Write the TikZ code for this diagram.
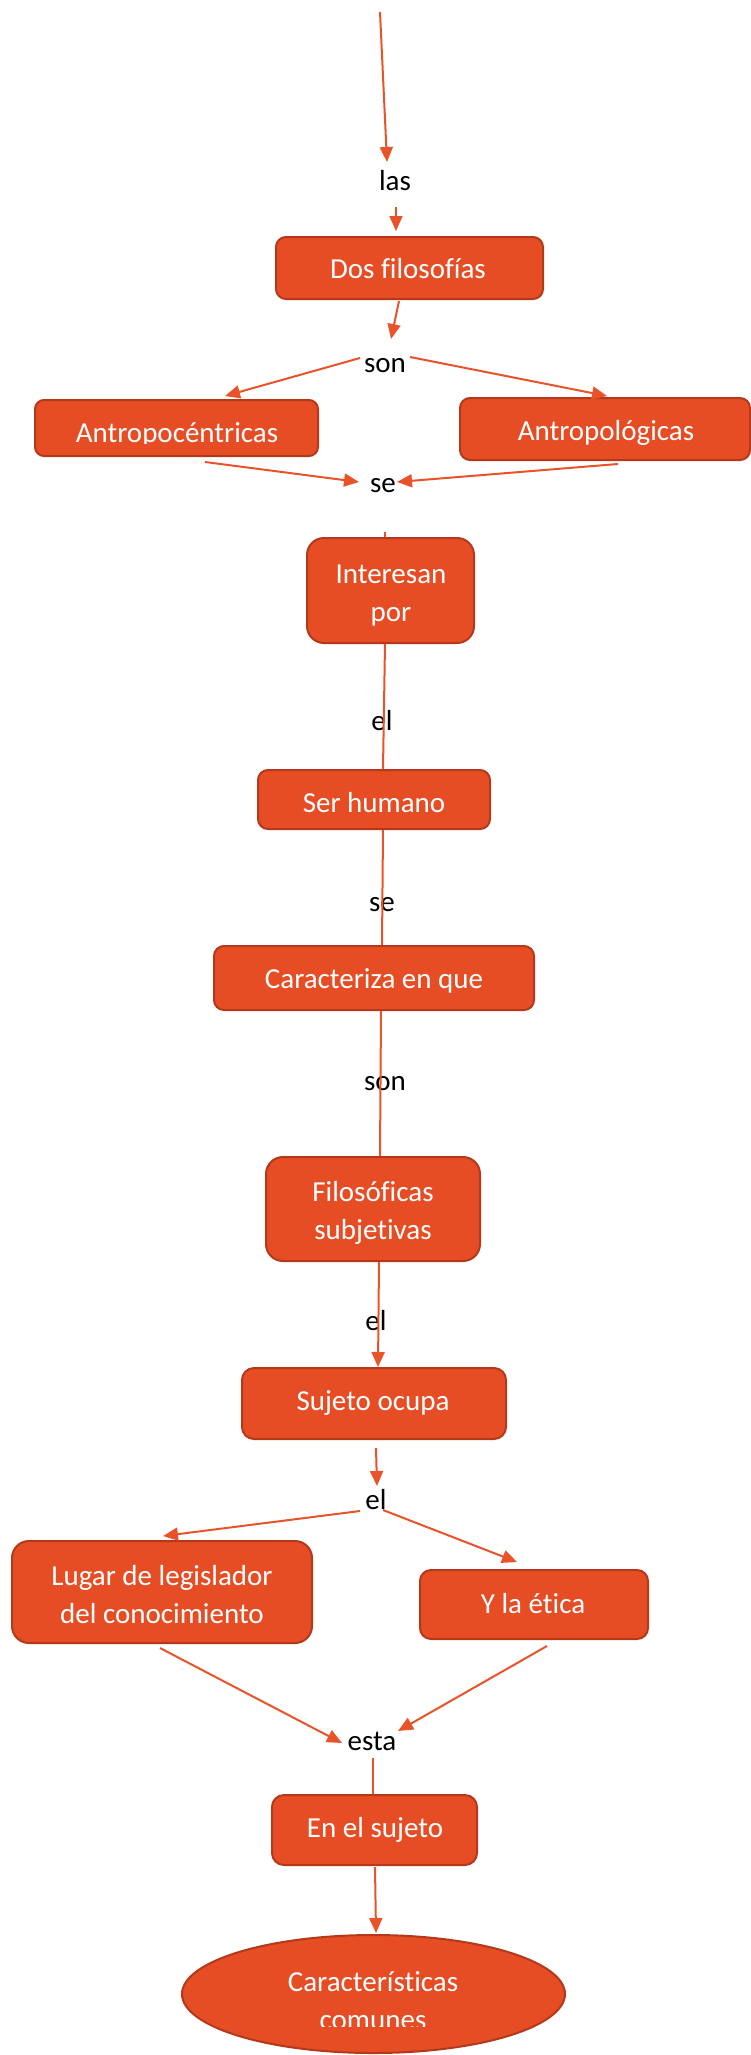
\documentclass[tikz,border=0pt]{standalone}
\usepackage{fontspec}
\setmainfont{Carlito}[Ligatures=NoCommon]
\usetikzlibrary{arrows.meta,calc,shapes.geometric}
\definecolor{boxfill}{RGB}{230,77,36}
\definecolor{boxline}{RGB}{180,57,26}
\definecolor{conn}{RGB}{232,83,42}
\begin{document}
\begin{tikzpicture}[x=1pt,y=-1pt,
  box/.style={draw=boxline, line width=2pt, fill=boxfill, inner sep=0pt},
  wt/.style={text=white, font=\fontsize{29}{38}\selectfont, inner sep=0pt, anchor=base},
  bt/.style={text=black, font=\fontsize{29}{38}\selectfont, inner sep=0pt, anchor=base},
  arr/.style={draw=conn, line width=2pt, -{Triangle[length=15pt,width=13pt]}},
  ln/.style={draw=conn, line width=2pt}]
\useasboundingbox (0,0) rectangle (751,2055);
\fill[white] (0,0) rectangle (751,2055);

% boxes
\node[box, minimum width=267pt, minimum height=62pt, rounded corners=10pt] (dos) at (409.5,268) {};
\node[box, minimum width=283pt, minimum height=56pt, rounded corners=9pt] (antc) at (176.5,428) {};
\node[box, minimum width=290pt, minimum height=62pt, rounded corners=10pt] (antl) at (605,429) {};
\node[box, minimum width=167pt, minimum height=105pt, rounded corners=17pt] (int) at (390.5,590.5) {};
\node[box, minimum width=232pt, minimum height=59pt, rounded corners=10pt] (ser) at (374,799.5) {};
\node[box, minimum width=320pt, minimum height=64pt, rounded corners=10pt] (car) at (374,978) {};
\node[box, minimum width=214pt, minimum height=104pt, rounded corners=17pt] (fil) at (373,1209) {};
\node[box, minimum width=264pt, minimum height=71pt, rounded corners=12pt] (suj) at (374,1403.5) {};
\node[box, minimum width=300pt, minimum height=102pt, rounded corners=17pt] (lug) at (162,1592) {};
\node[box, minimum width=228pt, minimum height=69pt, rounded corners=11pt] (yla) at (534,1604.5) {};
\node[box, minimum width=205pt, minimum height=70pt, rounded corners=12pt] (ens) at (374.5,1830) {};
\node[box, ellipse, minimum width=383pt, minimum height=118pt] (cc) at (373.5,1994) {};

% white texts
\node[wt] (tdos) at (408,278) {Dos filosofías};
\begin{scope}
\clip (35,400) rectangle (318,443);
\node[wt] (tantc) at (177,442) {Antropocéntricas};
\end{scope}
\node[wt] (tantl) at (606,440) {Antropológicas};
\node[wt] (tint1) at (391,583) {Interesan};
\node[wt] (tint2) at (391,621) {por};
\node[wt] (tser) at (374,812) {Ser humano};
\node[wt] (tcar) at (374,988) {Caracteriza en que};
\node[wt] (tfil1) at (373,1201) {Filosóficas};
\node[wt] (tfil2) at (373,1239) {subjetivas};
\node[wt] (tsuj) at (373,1410) {Sujeto ocupa};
\node[wt] (tlug1) at (162,1585) {Lugar de legislador};
\node[wt] (tlug2) at (162,1623) {del conocimiento};
\node[wt] (tyla) at (533,1613) {Y la ética};
\node[wt] (tens) at (375,1837) {En el sujeto};
\node[wt] (tcc1) at (373,1991) {Características};
\begin{scope}
\clip (182,1995) rectangle (565,2026);
\node[wt] (tcc2) at (373,2029) {comunes};
\end{scope}

% connectors
\coordinate (top) at (380,12);
\node[bt] (las) at (395,191) {las};
\node[bt] (son1) at (385,372) {son};
\node[bt] (se1) at (383,492) {se};
\node[bt] (el1) at (382,730) {el};
\node[bt] (se2) at (382,911) {se};
\node[bt] (son2) at (385,1090) {son};
\node[bt] (el2) at (376,1330) {el};
\node[bt] (el3) at (376,1509) {el};
\node[bt] (esta) at (372,1750) {esta};

\draw[arr] (top) -- ($(las.base)+(-8,-29)$);
\draw[arr] ($(las.base)+(1,16)$) -- ($(dos.north)+(-13.5,-5)$);
\draw[arr] ($(dos.south)+(-10.5,1)$) -- ($(son1.base)+(6,-33)$);
\draw[arr] ($(son1.base)+(-25,-14)$) -- ($(antc.north)+(48.5,-3)$);
\draw[arr] ($(son1.base)+(25,-15)$) -- ($(antl.north)+(2,-1)$);
\draw[arr] ($(antc.south)+(28.5,5)$) -- ($(se1.base)+(-24,-10)$);
\draw[arr] ($(antl.south)+(13,3)$) -- ($(se1.base)+(14,-10)$);
\draw[ln] ($(int.north)+(-5.5,-5)$) -- ($(int.north)+(-5.5,0)$);
\draw[ln] ($(int.south)+(-5.5,0)$) -- ($(ser.north)+(9,0)$);
\draw[ln] ($(ser.south)+(9,0)$) -- ($(car.north)+(8,0)$);
\draw[ln] ($(car.south)+(7,0)$) -- ($(fil.north)+(7,0)$);
\draw[arr] ($(fil.south)+(6,0)$) -- ($(suj.north)+(4,0)$);
\draw[arr] ($(suj.south)+(2,8)$) -- ($(el3.base)+(1,-23)$);
\draw[arr] ($(el3.base)+(-16,2)$) -- ($(lug.north)+(1,-4)$);
\draw[arr] ($(el3.base)+(7,1)$) -- ($(yla.north)+(-17,-7)$);
\draw[arr] ($(lug.south)+(-2,4)$) -- ($(esta.base)+(-30,-7)$);
\draw[arr] ($(yla.south)+(13,6)$) -- ($(esta.base)+(26,-19)$);
\draw[ln] ($(esta.base)+(1,8)$) -- ($(ens.north)+(-1.5,0)$);
\draw[arr] ($(ens.south)+(0.5,1)$) -- ($(cc.north)+(2.5,-1)$);
\end{tikzpicture}
\end{document}
